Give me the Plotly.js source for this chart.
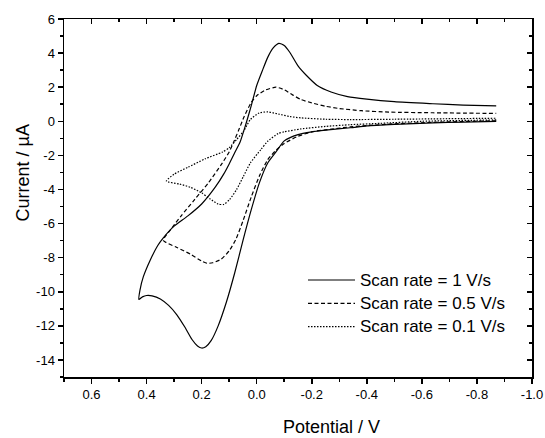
<!DOCTYPE html>
<html>
<head>
<meta charset="utf-8">
<script src="https://cdn.plot.ly/plotly-3.0.1.min.js"></script>
<style>html,body{margin:0;padding:0;background:#fff;}#chart{width:545px;height:438px;}</style>
</head>
<body>
<div id="chart"></div>
<script>
// Scan rate = 1 V/s (forward sweep then reverse sweep)
var solidV = [-0.87,-0.75,-0.64,-0.5,-0.4,-0.34,-0.25,-0.2,-0.15,-0.1,-0.07,-0.04,-0.01,0.02,0.05,0.08,0.11,0.14,0.165,0.185,0.2,0.215,0.235,0.26,0.29,0.32,0.35,0.38,0.40,0.415,0.428,
              0.424,0.412,0.387,0.36,0.34,0.30,0.25,0.20,0.15,0.12,0.10,0.08,0.06,0.04,0.02,0.0,-0.02,-0.04,-0.06,-0.08,-0.1,-0.12,-0.15,-0.18,-0.22,-0.27,-0.33,-0.4,-0.5,-0.64,-0.75,-0.87];
var solidI = [0.0,-0.05,-0.09,-0.18,-0.27,-0.38,-0.52,-0.62,-0.78,-1.15,-1.8,-2.45,-3.6,-5.2,-7.0,-8.9,-10.6,-12.0,-12.85,-13.22,-13.3,-13.18,-12.8,-12.1,-11.35,-10.8,-10.42,-10.24,-10.22,-10.3,-10.45,
              -9.9,-9.13,-8.15,-7.3,-6.85,-6.15,-5.55,-4.85,-3.85,-3.1,-2.5,-1.85,-1.2,-0.2,0.9,2.1,2.95,3.75,4.3,4.57,4.45,4.05,3.25,2.7,2.1,1.72,1.45,1.3,1.15,1.03,0.95,0.9];

// Scan rate = 0.5 V/s
var dashV = [-0.87,-0.64,-0.5,-0.4,-0.34,-0.25,-0.2,-0.15,-0.1,-0.07,-0.04,-0.01,0.02,0.05,0.075,0.1,0.13,0.16,0.18,0.2,0.24,0.29,0.339,
             0.31,0.275,0.225,0.175,0.125,0.1,0.085,0.065,0.045,0.02,0.0,-0.03,-0.07,-0.1,-0.13,-0.16,-0.2,-0.25,-0.3,-0.38,-0.48,-0.64,-0.87];
var dashI = [0.03,-0.06,-0.15,-0.25,-0.33,-0.5,-0.62,-0.88,-1.3,-1.7,-2.25,-3.2,-4.45,-5.85,-6.9,-7.6,-8.1,-8.3,-8.33,-8.2,-7.8,-7.4,-6.98,
             -6.3,-5.56,-4.58,-3.6,-2.45,-1.8,-1.27,-0.5,0.3,1.1,1.5,1.82,2.0,1.85,1.55,1.28,1.08,0.88,0.75,0.62,0.54,0.5,0.46];

// Scan rate = 0.1 V/s
var dotV = [-0.87,-0.6,-0.45,-0.34,-0.25,-0.16,-0.1,-0.078,-0.04,-0.015,0.023,0.048,0.073,0.098,0.12,0.14,0.17,0.2,0.24,0.28,0.328,
            0.30,0.25,0.187,0.124,0.1,0.073,0.048,0.023,-0.009,-0.04,-0.08,-0.12,-0.16,-0.25,-0.34,-0.5,-0.87];
var dotI = [0.08,0.0,-0.12,-0.2,-0.3,-0.45,-0.62,-0.72,-1.17,-1.66,-2.44,-3.22,-4.0,-4.58,-4.88,-4.85,-4.55,-4.2,-3.88,-3.68,-3.51,
            -3.1,-2.7,-2.2,-1.8,-1.55,-1.07,-0.59,0.1,0.49,0.55,0.42,0.28,0.2,0.12,0.1,0.12,0.18];

var seriesNames = ['Scan rate = 1 V/s','Scan rate = 0.5 V/s','Scan rate = 0.1 V/s'];
var xTickLabels = ['0.6','0.4','0.2','0.0','-0.2','-0.4','-0.6','-0.8','-1.0'];
var xMinorLabels = ['0.7','0.5','0.3','0.1','-0.1','-0.3','-0.5','-0.7','-0.9'];
var yTickLabels = ['-14','-12','-10','-8','-6','-4','-2','0','2','4','6'];
var yMinorLabels = ['-15','-13','-11','-9','-7','-5','-3','-1','1','3','5'];

var FONT = 'Liberation Sans, Arial, Helvetica, sans-serif';
var dashes = ['solid','4px,2.5px','1.5px,1.5px'];
var xs = [solidV, dashV, dotV], ys = [solidI, dashI, dotI];

var traces = xs.map(function(x,i){
  return {x:x, y:ys[i], type:'scatter', mode:'lines', name:seriesNames[i], showlegend:false,
          line:{color:'#000', width:1.2, dash:dashes[i], shape:'spline', smoothing:0.6}, hoverinfo:'skip'};
});
traces.push({x:[], y:[], xaxis:'x2', yaxis:'y2', type:'scatter', mode:'lines', showlegend:false, hoverinfo:'skip'});

// plot-area pixel geometry
var L=64, R=532, T=19, B=377;
function px(x){return (x-L)/(R-L);}
function py(y){return (B-y)/(B-T);}

var xr=[0.7,-1.0], yr=[-15,6];
var axBase = {showgrid:false, zeroline:false, showline:true, linecolor:'#000', linewidth:1.5,
              tickcolor:'#000', tickwidth:1.5, ticklen:5, tickmode:'array'};
function ax(extra){return Object.assign({}, axBase, extra);}

var layout = {
  width:545, height:438,
  margin:{l:L, r:545-R, t:T, b:438-B, pad:0},
  paper_bgcolor:'#fff', plot_bgcolor:'#fff',
  font:{family:FONT, color:'#000', size:13},
  showlegend:false,
  xaxis: ax({range:xr, ticks:'outside', tickvals:xTickLabels.map(Number), ticktext:xTickLabels,
             tickfont:{family:FONT, size:13, color:'#000'},
             minor:{tickmode:'array', tickvals:xMinorLabels.map(Number), ticks:'outside', ticklen:3, tickwidth:1.5, tickcolor:'#000', showgrid:false}}),
  yaxis: ax({range:yr, ticks:'outside', tickvals:yTickLabels.map(Number), ticktext:yTickLabels,
             tickfont:{family:FONT, size:13, color:'#000'},
             minor:{tickmode:'array', tickvals:yMinorLabels.map(Number), ticks:'outside', ticklen:3, tickwidth:1.5, tickcolor:'#000', showgrid:false}}),
  xaxis2: ax({range:xr, overlaying:'x', side:'top', anchor:'y2', ticks:'inside', showticklabels:false,
              tickvals:xTickLabels.map(Number),
              minor:{tickmode:'array', tickvals:xMinorLabels.map(Number), ticks:'inside', ticklen:3, tickwidth:1.5, tickcolor:'#000', showgrid:false}}),
  yaxis2: ax({range:yr, overlaying:'y', side:'right', anchor:'x2', ticks:'inside', showticklabels:false,
              tickvals:yTickLabels.map(Number),
              minor:{tickmode:'array', tickvals:yMinorLabels.map(Number), ticks:'inside', ticklen:3, tickwidth:1.5, tickcolor:'#000', showgrid:false}}),
  shapes: [], annotations: []
};

// axis titles
layout.annotations.push({text:'Potential / V', xref:'paper', yref:'paper', x:px(331), y:py(427),
  xanchor:'center', yanchor:'middle', showarrow:false, font:{family:FONT, size:18, color:'#000'}});
layout.annotations.push({text:'Current / \u00b5A', xref:'paper', yref:'paper', x:px(22.5), y:py(173),
  xanchor:'center', yanchor:'middle', textangle:-90, showarrow:false, font:{family:FONT, size:18, color:'#000'}});

// legend
var legRows=[280, 303.3, 326.7];
seriesNames.forEach(function(n,i){
  layout.shapes.push({type:'line', xref:'paper', yref:'paper', x0:px(308), x1:px(355), y0:py(legRows[i]), y1:py(legRows[i]),
    line:{color:'#000', width:1.2, dash:dashes[i]}});
  layout.annotations.push({text:n, xref:'paper', yref:'paper', x:px(358), y:py(legRows[i]), xanchor:'left', yanchor:'middle',
    showarrow:false, font:{family:FONT, size:17, color:'#000'}});
});

Plotly.newPlot('chart', traces, layout, {staticPlot:true, displayModeBar:false});
</script>
</body>
</html>
